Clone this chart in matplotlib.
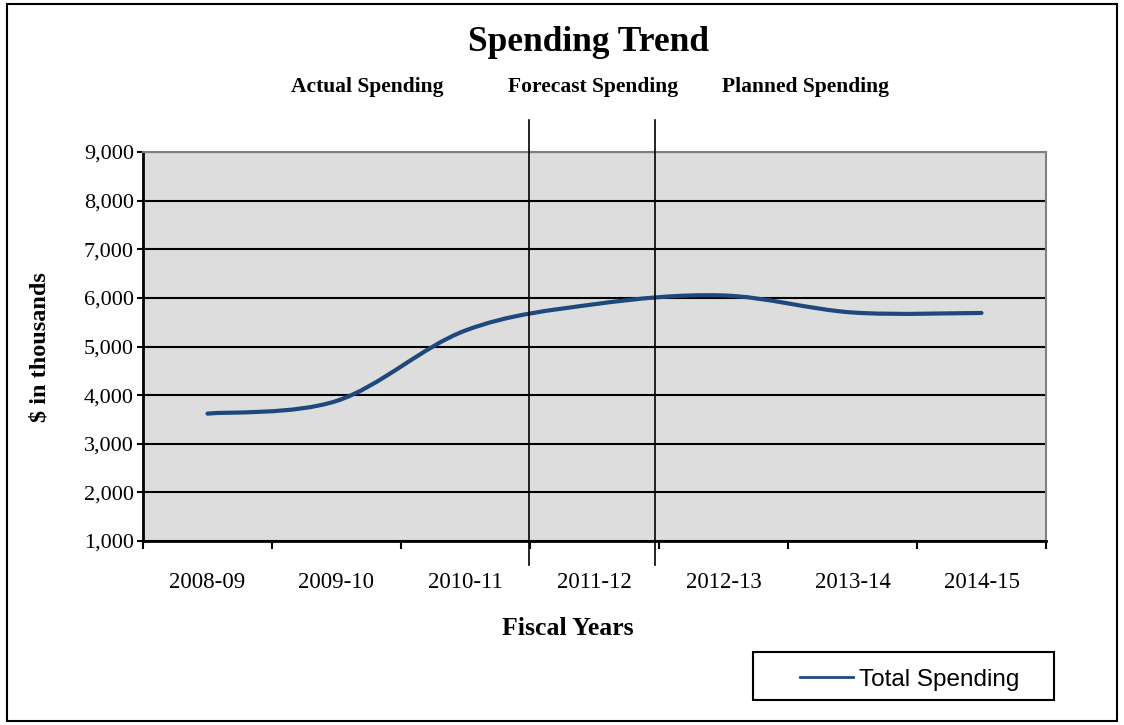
import numpy as np
import matplotlib.pyplot as plt
from matplotlib.path import Path
from matplotlib.patches import PathPatch, Rectangle
from matplotlib.lines import Line2D
import matplotlib.transforms as mtransforms

# chart data
years = ["2008-09", "2009-10", "2010-11", "2011-12", "2012-13", "2013-14", "2014-15"]
total_spending = [3620, 3880, 5330, 5870, 6050, 5700, 5690]
y_ticks = [1000, 2000, 3000, 4000, 5000, 6000, 7000, 8000, 9000]
section_labels = ["Actual Spending", "Forecast Spending", "Planned Spending"]

serif = "Liberation Serif"
line_color = "#1f497d"

fig = plt.figure(figsize=(11.24, 7.25), dpi=100)
fig.patches.append(Rectangle((0.006, 0.006), 0.988, 0.988, transform=fig.transFigure,
                             fill=False, edgecolor="black", linewidth=1.5))

ax = fig.add_axes([0.1272, 0.2538, 0.8034, 0.5365])
ax.set_facecolor("#dddddd")

x = np.arange(len(years))
y = np.array(total_spending, dtype=float)

# Excel-like smoothed line: cubic bezier segments (Catmull-Rom style)
pts = np.column_stack([x, y])
ext = np.vstack([pts[0], pts, pts[-1]])
verts = [tuple(pts[0])]
codes = [Path.MOVETO]
for i in range(len(pts) - 1):
    p0, p1, p2, p3 = ext[i], ext[i + 1], ext[i + 2], ext[i + 3]
    c1 = p1 + (p2 - p0) / 6.0
    c2 = p2 - (p3 - p1) / 6.0
    verts += [tuple(c1), tuple(c2), tuple(p2)]
    codes += [Path.CURVE4] * 3
ax.add_patch(PathPatch(Path(verts, codes), facecolor="none", edgecolor=line_color,
                       linewidth=3, capstyle="round", zorder=4))

ax.set_xlim(-0.5, len(years) - 0.5)
ax.set_ylim(1000, 9000)
ax.set_yticks(y_ticks)
ax.set_yticklabels([f"{v:,}" for v in y_ticks], fontfamily=serif, fontsize=16)
ax.yaxis.grid(True, color="black", linewidth=1.5)
ax.set_axisbelow(True)

ax.set_xticks(x)
ax.set_xticklabels(years, fontfamily=serif, fontsize=16.5)
ax.set_xticks(np.arange(-0.5, len(years)), minor=True)
ax.tick_params(axis="x", which="major", length=0, pad=22)
ax.tick_params(axis="x", which="minor", length=6, width=1.5, direction="out")
ax.tick_params(axis="y", length=4, width=1.5, direction="out", pad=2.5)

for side in ["top", "right"]:
    ax.spines[side].set_color("#808080")
    ax.spines[side].set_linewidth(1.5)
for side in ["left", "bottom"]:
    ax.spines[side].set_color("black")
    ax.spines[side].set_linewidth(2)

# section separators
trans = mtransforms.blended_transform_factory(ax.transData, ax.transAxes)
for sx in [2.49, 3.47]:
    ax.plot([sx, sx], [-0.062, 1.082], color="black", linewidth=1.2,
            transform=trans, clip_on=False, zorder=5)

fig.text(0.524, 0.942, "Spending Trend", ha="center", va="center",
         fontfamily=serif, fontweight="bold", fontsize=25.5)
for lx, lab in zip([0.327, 0.528, 0.717], section_labels):
    fig.text(lx, 0.880, lab, ha="center", va="center",
             fontfamily=serif, fontweight="bold", fontsize=15.5)

fig.text(0.505, 0.133, "Fiscal Years", ha="center", va="center",
         fontfamily=serif, fontweight="bold", fontsize=18.5)
fig.text(0.036, 0.521, "$ in thousands", ha="center", va="center", rotation=90,
         fontfamily=serif, fontweight="bold", fontsize=17.5)

# legend: box drawn separately to match the wide Excel frame
fig.patches.append(Rectangle((0.670, 0.0345), 0.2678, 0.0662, transform=fig.transFigure,
                             fill=False, edgecolor="black", linewidth=1.5))
handle = Line2D([], [], color=line_color, linewidth=2)
fig.legend([handle], ["Total Spending"], loc="center left",
           bbox_to_anchor=(0.7117, 0.0625), frameon=False, borderpad=0,
           handlelength=2.2, handletextpad=0.25, borderaxespad=0,
           prop={"family": "Liberation Sans", "size": 17.5})

fig.savefig("out.png", dpi=100)
